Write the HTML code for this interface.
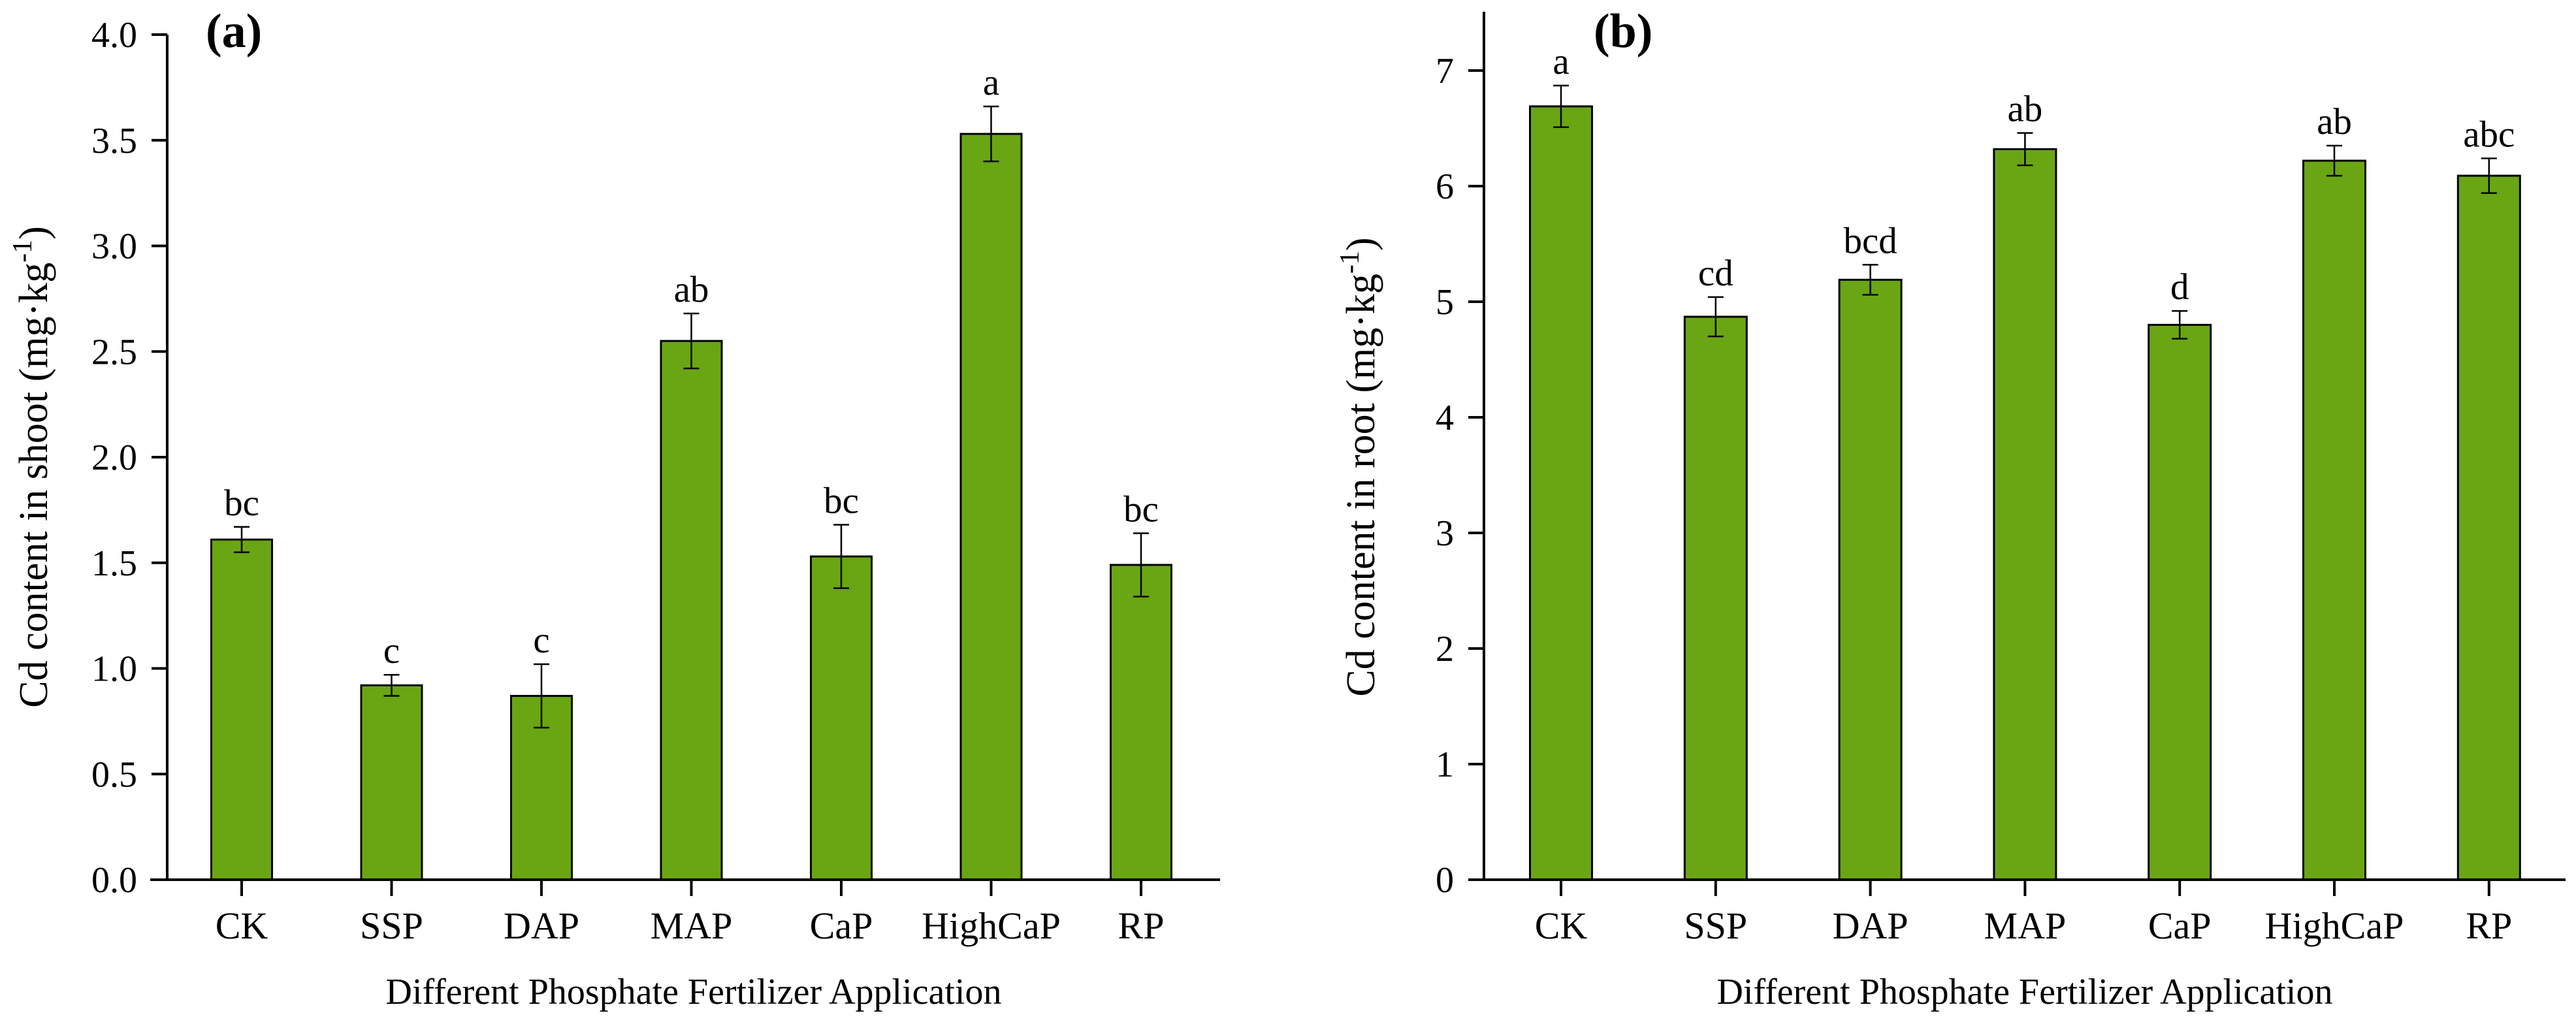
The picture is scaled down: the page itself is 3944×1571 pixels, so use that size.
<!DOCTYPE html>
<html><head><meta charset="utf-8"><style>
html,body{margin:0;padding:0;background:#fff;}
svg{display:block;}
text{font-family:"Liberation Serif",serif;fill:#000;}
</style></head><body>
<svg id="chart" width="3944" height="1571" viewBox="0 0 3944 1571" xmlns="http://www.w3.org/2000/svg">
<g id="pa"></g>
<g id="pb"></g>
</svg>
<script>
const categories = ["CK","SSP","DAP","MAP","CaP","HighCaP","RP"];
const shootValues = [1.61,0.92,0.87,2.55,1.53,3.53,1.49];
const shootErrors = [0.06,0.05,0.15,0.13,0.15,0.13,0.15];
const shootLetters = ["bc","c","c","ab","bc","a","bc"];
const shootTicks = ["0.0","0.5","1.0","1.5","2.0","2.5","3.0","3.5","4.0"];
const rootValues = [6.69,4.87,5.19,6.32,4.80,6.22,6.09];
const rootErrors = [0.18,0.17,0.13,0.14,0.12,0.13,0.15];
const rootLetters = ["a","cd","bcd","ab","d","ab","abc"];
const rootTicks = ["0","1","2","3","4","5","6","7"];

const NS="http://www.w3.org/2000/svg";
function mk(parent,tag,attrs,txt){const e=document.createElementNS(NS,tag);for(const k in attrs)e.setAttribute(k,attrs[k]);if(txt!==undefined)e.textContent=txt;parent.appendChild(e);return e;}

function drawPanel(g,cfg){
  const y=v=>cfg.y0-(v-cfg.vmin)/(cfg.vmax-cfg.vmin)*(cfg.y0-cfg.yTopTick);
  const x=i=>cfg.x0+cfg.step*i;
  let ax=mk(g,'line',{x1:cfg.axX,y1:cfg.axTop,x2:cfg.axX,y2:cfg.y0+2,stroke:'#000','stroke-width':4});
  
  
  cfg.ticks.forEach(t=>{
    const yy=y(parseFloat(t));
    let tl=mk(g,'line',{x1:cfg.axX-24,y1:yy,x2:cfg.axX,y2:yy,stroke:'#000','stroke-width':4});
    
    
    let tt=mk(g,'text',{x:cfg.axX-46,y:yy+19,'text-anchor':'end','font-size':56},t);
    
    
  });
  categories.forEach((c,i)=>{
    const cx=x(i), v=cfg.values[i], e=cfg.errors[i];
    let b=mk(g,'rect',{x:cx-cfg.bw/2,y:y(v),width:cfg.bw,height:cfg.y0-y(v),fill:'#6aa514',stroke:'#000','stroke-width':3});
    
    
    const eg=mk(g,'g',{stroke:'#000','stroke-width':2.5});
    
    
    mk(eg,'line',{x1:cx,y1:y(v+e),x2:cx,y2:y(v-e)});
    mk(eg,'line',{x1:cx-12,y1:y(v+e),x2:cx+12,y2:y(v+e)});
    mk(eg,'line',{x1:cx-12,y1:y(v-e),x2:cx+12,y2:y(v-e)});
    let lt=mk(g,'text',{x:cx,y:y(v+e)-18,'text-anchor':'middle','font-size':57},cfg.letters[i]);
    
    
    let xt=mk(g,'line',{x1:cx,y1:cfg.y0,x2:cx,y2:cfg.y0+25,stroke:'#000','stroke-width':4});
    
    
    let xl=mk(g,'text',{x:cx,y:1437,'text-anchor':'middle','font-size':58},c);
    
    
  });
  let xa=mk(g,'line',{x1:cfg.xaStart,y1:cfg.y0,x2:cfg.xaEnd,y2:cfg.y0,stroke:'#000','stroke-width':4});
  
  
  let xtit=mk(g,'text',{x:cfg.titleX,y:1537,'text-anchor':'middle','font-size':56},'Different Phosphate Fertilizer Application');
  
  
  let yt=mk(g,'text',{transform:`translate(${cfg.ytX},${cfg.ytY}) rotate(-90)`,'text-anchor':'middle','font-size':62});
  
  
  mk(yt,'tspan',{},cfg.ytitle+' (mg·kg');
  mk(yt,'tspan',{dy:-24,'font-size':42},'-1');
  mk(yt,'tspan',{dy:24},')');
  let pl=mk(g,'text',{x:cfg.plX,y:72,'font-size':74,'font-weight':'bold'},cfg.plabel);
  
  
}

drawPanel(document.getElementById('pa'),{
  values:shootValues,errors:shootErrors,letters:shootLetters,ticks:shootTicks,
  vmin:0,vmax:4,y0:1347,yTopTick:53,axX:256,axTop:53,x0:370,step:229.5,bw:93,
  xaStart:230,xaEnd:1868,titleX:1062,ytX:72,ytY:715,ytitle:'Cd content in shoot',plX:315,plabel:'(a)'
});
drawPanel(document.getElementById('pb'),{
  values:rootValues,errors:rootErrors,letters:rootLetters,ticks:rootTicks,
  vmin:0,vmax:7,y0:1347,yTopTick:108,axX:2272,axTop:18,x0:2390,step:236.8,bw:95,
  xaStart:2248,xaEnd:3928,titleX:3100,ytX:2104,ytY:715,ytitle:'Cd content in root',plX:2440,plabel:'(b)'
});
</script>
</body></html>
